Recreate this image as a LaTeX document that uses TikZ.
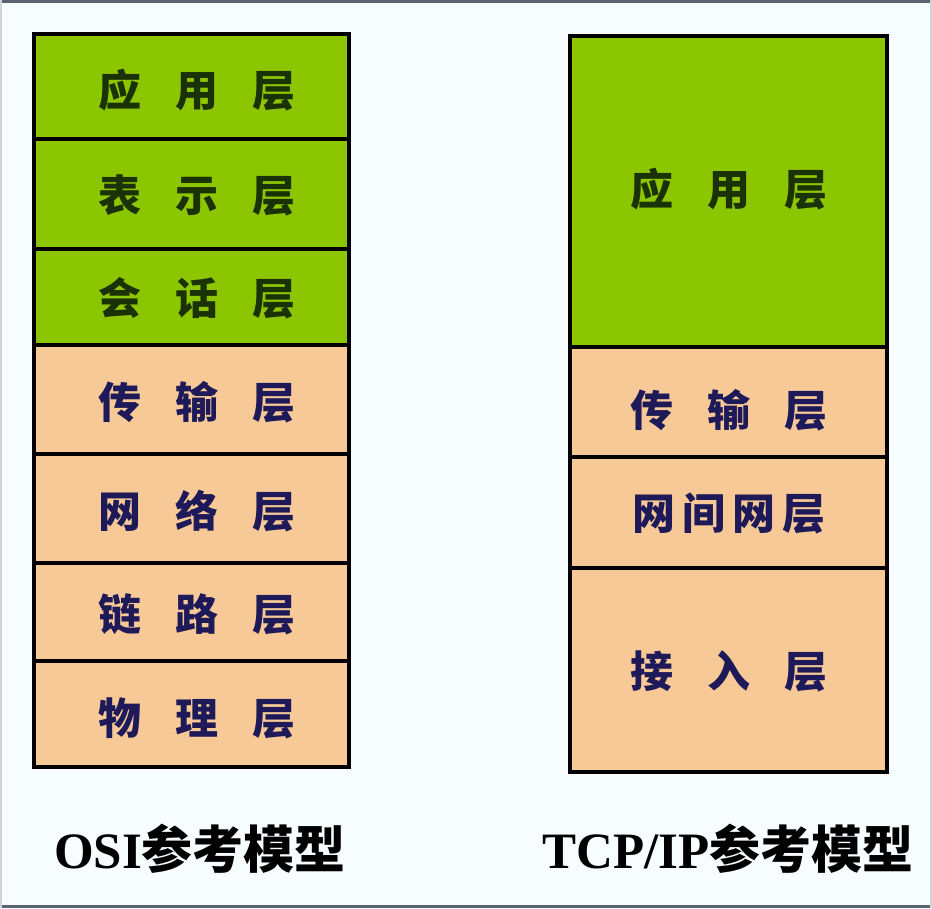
\documentclass[tikz,border=0pt]{standalone}
\usepackage{fontspec}
\setmainfont{Liberation Serif}
\newfontfamily\cjk{Noto Sans CJK SC}
\definecolor{lgreen}{HTML}{8CC600}
\definecolor{peach}{HTML}{F6C996}
\definecolor{gtext}{HTML}{1A3206}
\definecolor{ntext}{HTML}{1E1A5A}
\definecolor{framec}{HTML}{5A6470}
\begin{document}
\begin{tikzpicture}[x=1pt,y=-1pt,
  layer/.style={draw=black,line width=4.5pt,line join=miter},
  glayer/.style={layer,fill=lgreen},
  player/.style={layer,fill=peach},
  gtxt/.style={font=\cjk\bfseries\fontsize{43}{43}\selectfont,text=gtext},
  ptxt/.style={font=\cjk\bfseries\fontsize{43}{43}\selectfont,text=ntext},
  captxt/.style={font=\bfseries\fontsize{51}{51}\selectfont,text=black}]
\path[fill=white!97!cyan] (0,0) rectangle (932,908);
\useasboundingbox (0,0) rectangle (932,908);
\draw[framec,line width=3pt] (0,1.5) -- (932,1.5);
\draw[framec,line width=3pt] (0,906.5) -- (932,906.5);
\draw[gray!35,line width=1.5pt] (1,0) -- (1,908) (931,0) -- (931,908);
% OSI
\draw[glayer] (34,34) rectangle (349,139);
\draw[glayer] (34,139) rectangle (349,249);
\draw[glayer] (34,249) rectangle (349,345);
\draw[player] (34,345) rectangle (349,454);
\draw[player] (34,454) rectangle (349,563);
\draw[player] (34,563) rectangle (349,661);
\draw[player] (34,661) rectangle (349,767);
\node[gtxt] (o7) at (197,90) {应\hspace{34pt}用\hspace{34pt}层};
\node[gtxt] (o6) at (197,195) {表\hspace{34pt}示\hspace{34pt}层};
\node[gtxt] (o5) at (197,298) {会\hspace{34pt}话\hspace{34pt}层};
\node[ptxt] (o4) at (197,402) {传\hspace{34pt}输\hspace{34pt}层};
\node[ptxt] (o3) at (197,511) {网\hspace{34pt}络\hspace{34pt}层};
\node[ptxt] (o2) at (197,614) {链\hspace{34pt}路\hspace{34pt}层};
\node[ptxt] (o1) at (197,718) {物\hspace{34pt}理\hspace{34pt}层};
% TCP/IP
\draw[glayer] (570,36) rectangle (887,347);
\draw[player] (570,347) rectangle (887,457);
\draw[player] (570,457) rectangle (887,568);
\draw[player] (570,568) rectangle (887,772);
\node[gtxt] (t4) at (729,189) {应\hspace{34pt}用\hspace{34pt}层};
\node[ptxt] (t3) at (729,410) {传\hspace{34pt}输\hspace{34pt}层};
\node[ptxt] (t2) at (729,513) {网\hspace{7pt}间\hspace{7pt}网\hspace{7pt}层};
\node[ptxt] (t1) at (729,671) {接\hspace{34pt}入\hspace{34pt}层};
% captions
\node[captxt] (capo) at (200,849) {OSI{\cjk 参考模型}};
\node[captxt] (capt) at (728,849) {TCP/IP{\cjk 参考模型}};
\end{tikzpicture}
\end{document}
